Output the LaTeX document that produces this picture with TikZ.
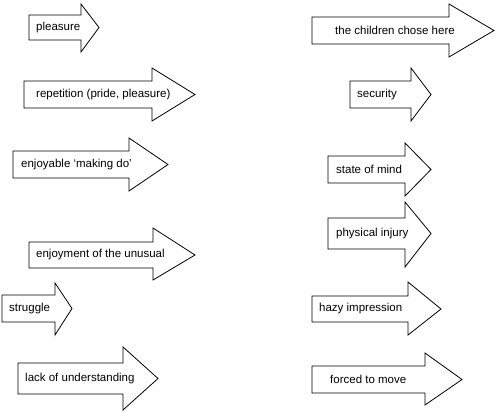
\documentclass[tikz,border=0pt]{standalone}
\usepackage{fontspec}
\setmainfont{Liberation Sans}
\tikzset{
	arrowbox/.style={draw=black, line width=0.8pt, line join=miter, fill=white},
	lbl/.style={anchor=west, inner sep=0pt, font=\fontsize{11.5}{13}\selectfont}
}
\begin{document}
\begin{tikzpicture}[x=1pt, y=-1pt]
	 	\useasboundingbox (0,0) rectangle (500,412);
	 	% left x / body top / body bottom / head base / head top / head bottom / tip / text offset / text
	 	\foreach \xl/\yt/\yb/\xh/\yht/\yhb/\xp/\dx/\txt [count=\i] in {
	 		29/15/40/81/4/52/99/7/pleasure,
	 		24/81/108/152/68/121/195/12/{repetition (pride, pleasure)},
	 		13/151/178/129/138/191/168/8/{enjoyable `making do'},
	 		29/242/268/153/228/280/195/7/{enjoyment of the unusual},
	 		2/295/322/55/283/335/72/7/struggle,
	 		18/363/394/123/347/410/158/7/{lack of understanding},
	 		312/17/44/449/4/57/494/23/{the children chose here},
	 		350/81/108/411/68/121/431/7/security,
	 		328/156/183/405/143/196/431/8/{state of mind},
	 		328/218/249/405/202/267/431/8/{physical injury},
	 		312/296/322/408/282/335/441/7/{hazy impression},
	 		312/366/393/425/353/405/462/18/{forced to move}}{
	 		\pgfmathsetmacro{\ymid}{(\yt+\yb)/2}
	 		\draw[arrowbox] (\xl,\yt)--(\xh,\yt)--(\xh,\yht)--(\xp,\ymid)--(\xh,\yhb)--(\xh,\yb)--(\xl,\yb)--cycle;
	 		\node[lbl] (lbl\i) at (\xl+\dx,\ymid) {\txt};
	 	}
\end{tikzpicture}
\end{document}
